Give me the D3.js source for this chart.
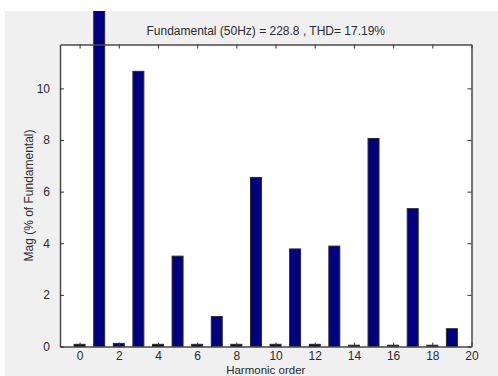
<!DOCTYPE html>
<html>
<head>
<meta charset="utf-8">
<script src="https://cdn.jsdelivr.net/npm/d3@7/dist/d3.min.js"></script>
<style>
  html, body { margin: 0; padding: 0; background: #ffffff; }
  svg { display: block; }
  text { font-family: "Liberation Sans", Arial, sans-serif; fill: #2b2b35; }
</style>
</head>
<body>
<svg id="chart" width="498" height="376"></svg>
<script>
// Harmonic spectrum (magnitude as % of fundamental)
const harmonicOrders = [0, 1, 2, 3, 4, 5, 6, 7, 8, 9, 10, 11, 12, 13, 14, 15, 16, 17, 18, 19];
const magnitudes = [0.085, 100, 0.12, 10.66, 0.085, 3.5, 0.085, 1.16, 0.085, 6.55,
                    0.085, 3.78, 0.085, 3.89, 0.05, 8.06, 0.05, 5.34, 0.05, 0.69];
const xTicks = [0, 2, 4, 6, 8, 10, 12, 14, 16, 18, 20];
const yTicks = [0, 2, 4, 6, 8, 10];
const titleText = "Fundamental (50Hz) = 228.8 , THD= 17.19%";
const xLabel = "Harmonic order";
const yLabel = "Mag (% of Fundamental)";

const W = 498, H = 376;
const fig = { x: 5, y: 11, w: W - 5, h: H - 11 };
const box = { left: 60, right: 471.5, top: 44.5, bottom: 346.5 };
const barHalf = 0.28;

const svg = d3.select("#chart");

// figure background
svg.append("rect")
  .attr("x", fig.x).attr("y", fig.y).attr("width", fig.w).attr("height", fig.h)
  .attr("fill", "#f0f0f0");

svg.append("defs").append("clipPath").attr("id", "figclip")
  .append("rect").attr("x", fig.x).attr("y", fig.y).attr("width", fig.w).attr("height", fig.h);

const x = d3.scaleLinear().domain([-1, 20]).range([box.left, box.right]);
const y = d3.scaleLinear().domain([0, 11.7]).range([box.bottom, box.top]);

// plot area
svg.append("rect")
  .attr("x", box.left).attr("y", box.top)
  .attr("width", box.right - box.left).attr("height", box.bottom - box.top)
  .attr("fill", "#ffffff");

// bars (the fundamental runs past the top of the axes and is cut at the figure edge)
svg.append("g").attr("clip-path", "url(#figclip)")
  .selectAll("rect")
  .data(harmonicOrders.map((h, i) => ({ h, v: magnitudes[i] })))
  .join("rect")
  .attr("x", d => x(d.h - barHalf))
  .attr("width", d => x(d.h + barHalf) - x(d.h - barHalf))
  .attr("y", d => y(d.v))
  .attr("height", d => y(0) - y(d.v))
  .attr("fill", "#000080")
  .attr("stroke", "#2a2a2a")
  .attr("stroke-width", 1);

// axes with inward ticks on all four sides
const tickLen = 4;
const axisColor = "#4a4a4a";

const gBottom = svg.append("g").attr("transform", `translate(0,${box.bottom})`)
  .call(d3.axisBottom(x).tickValues(xTicks).tickSizeInner(-tickLen).tickSizeOuter(0).tickPadding(5));
const gTop = svg.append("g").attr("transform", `translate(0,${box.top})`)
  .call(d3.axisTop(x).tickValues(xTicks).tickSizeInner(-tickLen).tickSizeOuter(0).tickFormat(""));
const gLeft = svg.append("g").attr("transform", `translate(${box.left},0)`)
  .call(d3.axisLeft(y).tickValues(yTicks).tickSizeInner(-tickLen).tickSizeOuter(0).tickPadding(10));
const gRight = svg.append("g").attr("transform", `translate(${box.right},0)`)
  .call(d3.axisRight(y).tickValues(yTicks).tickSizeInner(-tickLen).tickSizeOuter(0).tickFormat(""));

[gBottom, gTop, gLeft, gRight].forEach(g => {
  g.select(".domain").attr("stroke", axisColor).attr("stroke-width", 1.5);
  g.selectAll(".tick line").attr("stroke", "#333").attr("stroke-width", 1);
  g.selectAll(".tick text")
    .attr("font-family", "Liberation Sans, Arial, sans-serif")
    .attr("font-size", 12)
    .attr("fill", "#2b2b35");
});

// title
svg.append("text")
  .attr("x", (box.left + box.right) / 2).attr("y", 35)
  .attr("text-anchor", "middle").attr("font-size", 12)
  .text(titleText);

// x label
svg.append("text")
  .attr("x", (box.left + box.right) / 2).attr("y", 373.5)
  .attr("text-anchor", "middle").attr("font-size", 11.5)
  .text(xLabel);

// y label
svg.append("text")
  .attr("transform", `translate(33,${(box.top + box.bottom) / 2}) rotate(-90)`)
  .attr("text-anchor", "middle").attr("font-size", 12)
  .text(yLabel);
</script>
</body>
</html>
